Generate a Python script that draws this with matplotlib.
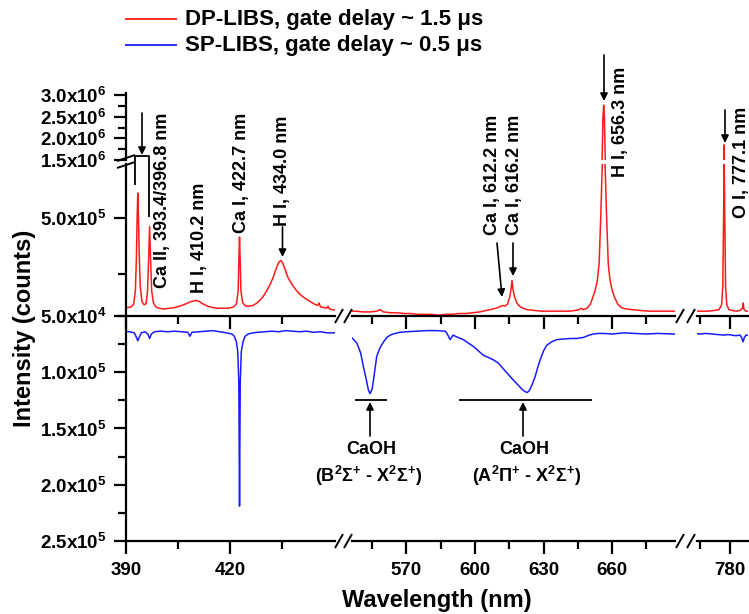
import matplotlib
matplotlib.use('Agg')
import matplotlib.pyplot as plt
from matplotlib.lines import Line2D
from matplotlib.patches import FancyArrowPatch
from matplotlib.ticker import FixedLocator, NullFormatter, FuncFormatter
import math

plt.rcParams['font.family'] = ['Liberation Sans', 'DejaVu Sans']
plt.rcParams['font.weight'] = 'bold'
plt.rcParams['font.size'] = 13.5
plt.rcParams['mathtext.default'] = 'regular'

# ---------------- data ----------------
# DP-LIBS (red), three wavelength segments
red_wl_1 = [389.5, 390.5, 391.5, 392.2, 392.7, 393.0, 393.2, 393.4, 393.6, 393.8, 394.1, 394.6, 395.2,
            395.8, 396.2, 396.5, 396.8, 397.1, 397.4, 397.9, 398.6, 399.5, 401, 402.5, 404, 405.5, 407,
            408.2, 409.2, 410.2, 411.2, 412.3, 413.5, 415, 416.5, 418, 419.5, 421, 421.8, 422.3, 422.5,
            422.7, 422.9, 423.1, 423.6, 424.5, 425.5, 426.5, 427.5, 428.5, 429.5, 430.5, 431.5, 432.4,
            433.2, 433.8, 434.2, 434.6, 435.1, 435.8, 436.6, 437.3, 438.2, 439.2, 440.3, 441.5, 442.8,
            444, 445.2, 445.6, 446.0, 447, 447.8, 448.2, 448.6, 449.5, 451]
red_I_1 = [6.1e4, 6.1e4, 6.2e4, 6.6e4, 9e4, 2.0e5, 5e5, 9.0e5, 5e5, 2.2e5, 1.0e5, 7.0e4, 6.5e4,
           6.7e4, 9e4, 1.8e5, 4.1e5, 1.8e5, 9e4, 6.8e4, 6.2e4, 6.0e4, 5.9e4, 6.0e4, 6.1e4, 6.3e4, 6.6e4,
           6.9e4, 7.1e4, 7.2e4, 7.0e4, 6.6e4, 6.3e4, 6.1e4, 6.0e4, 6.0e4, 6.0e4, 6.2e4, 6.6e4, 9e4, 1.8e5,
           3.2e5, 1.8e5, 9e4, 6.8e4, 6.3e4, 6.3e4, 6.4e4, 6.7e4, 7.2e4, 7.9e4, 9.0e4, 1.05e5, 1.24e5,
           1.5e5, 1.7e5, 1.8e5, 1.84e5, 1.75e5, 1.5e5, 1.25e5, 1.12e5, 1.0e5, 9.0e4, 8.2e4, 7.6e4, 7.1e4,
           6.7e4, 6.4e4, 6.8e4, 6.2e4, 6.1e4, 6.0e4, 6.3e4, 5.9e4, 5.8e4, 5.7e4]

red_wl_2 = [545, 548, 551, 554, 557, 558.5, 560, 563, 566, 569, 572, 575, 578, 581, 584, 587, 590, 593,
            596, 599, 602, 605, 608, 610, 611.3, 612.2, 613.0, 614.2, 615.2, 615.8, 616.2, 616.6, 617.3,
            618.3, 619.5, 621, 623, 626, 629, 632, 635, 638, 641, 644, 645.5, 646.4, 647.3, 649, 650.5,
            651.5, 652.5, 653.5, 654.3, 655.0, 655.6, 656.0, 656.3, 656.6, 657.0, 657.6, 658.3, 659.1,
            660.1, 661.1, 662.5, 664, 666, 669, 672, 676, 680, 684, 689]
red_I_2 = [5.6e4, 5.6e4, 5.5e4, 5.5e4, 5.6e4, 5.8e4, 5.5e4, 5.4e4, 5.4e4, 5.3e4, 5.3e4, 5.2e4, 5.2e4,
           5.2e4, 5.1e4, 5.2e4, 5.2e4, 5.3e4, 5.3e4, 5.4e4, 5.5e4, 5.7e4, 5.9e4, 6.1e4, 6.3e4, 6.4e4,
           6.3e4, 6.6e4, 7.8e4, 9.5e4, 1.15e5, 9.5e4, 7.8e4, 6.8e4, 6.3e4, 6.0e4, 5.8e4, 5.7e4, 5.6e4,
           5.6e4, 5.6e4, 5.6e4, 5.6e4, 5.7e4, 5.8e4, 6.0e4, 5.8e4, 6.0e4, 6.6e4, 7.7e4, 9.0e4, 1.15e5,
           1.7e5, 5.0e5, 1.5e6, 2.5e6, 2.77e6, 2.5e6, 1.5e6, 5.0e5, 1.7e5, 1.15e5, 9.0e4, 7.7e4, 6.6e4,
           6.1e4, 5.9e4, 5.8e4, 5.7e4, 5.6e4, 5.6e4, 5.6e4, 5.6e4]

red_wl_3 = [763, 766, 769, 772, 774.5, 775.8, 776.4, 776.8, 777.1, 777.4, 777.8, 778.4, 779.5, 781,
            783, 785, 786.2, 786.6, 787.0, 788, 790]
red_I_3 = [5.6e4, 5.6e4, 5.6e4, 5.7e4, 5.8e4, 6.5e4, 1.0e5, 5e5, 1.85e6, 5e5, 1.0e5, 6.5e4, 5.8e4,
           5.7e4, 5.6e4, 5.7e4, 6.0e4, 6.8e4, 5.8e4, 5.6e4, 5.6e4]

# SP-LIBS (blue), three wavelength segments
blue_wl_1 = [389.5, 391, 392.4, 393.0, 393.4, 393.8, 394.4, 395.5, 396.3, 396.8, 397.3, 398.2, 400, 402,
             404, 406, 407.8, 408.4, 409, 411, 413, 415, 417, 419, 420.5, 421.2, 421.8, 422.2, 422.5,
             422.7, 422.9, 423.2, 423.7, 424.3, 425.2, 426.5, 428, 430, 432, 434, 436, 438, 440, 442,
             444, 446, 448, 450, 451]
blue_I_1 = [6.35e4, 6.4e4, 6.5e4, 6.9e4, 7.2e4, 6.9e4, 6.5e4, 6.4e4, 6.6e4, 7.0e4, 6.6e4, 6.4e4, 6.35e4,
            6.4e4, 6.35e4, 6.4e4, 6.45e4, 6.8e4, 6.45e4, 6.4e4, 6.35e4, 6.3e4, 6.4e4, 6.5e4, 6.6e4,
            6.8e4, 7.3e4, 8.2e4, 1.1e5, 2.19e5, 1.1e5, 8.2e4, 7.3e4, 6.8e4, 6.6e4, 6.5e4, 6.45e4, 6.4e4,
            6.35e4, 6.4e4, 6.3e4, 6.35e4, 6.4e4, 6.35e4, 6.45e4, 6.4e4, 6.5e4, 6.5e4, 6.45e4]

blue_wl_2 = [544.6, 546.5, 548.3, 550, 551.2, 552.4, 553.4, 554.1, 555.0, 555.6, 557.0, 558.5, 560,
             561.5, 562.9, 565, 567.2, 570, 574.5, 579, 583.3, 587.0, 587.6, 588.4, 589.1, 589.8, 590.4,
             592.5, 594.9, 597, 599.3, 601.5, 603.7, 606, 608.1, 610.3, 612.4, 614.6, 616.8, 618.7,
             620.5, 621.7, 622.7, 623.5, 624.1, 625.2, 626.3, 627.4, 628.5, 630, 631.4, 633.5, 635.8,
             638.5, 641.7, 644.5, 647.5, 650, 651.9, 654, 656.3, 660, 665, 670, 675, 680, 686.4, 689]
blue_I_2 = [6.7e4, 7.0e4, 7.4e4, 8.3e4, 9.5e4, 1.06e5, 1.16e5, 1.19e5, 1.15e5, 1.07e5, 8.6e4, 7.8e4,
            7.3e4, 6.9e4, 6.7e4, 6.55e4, 6.45e4, 6.4e4, 6.35e4, 6.3e4, 6.3e4, 6.35e4, 6.5e4, 6.8e4,
            7.1e4, 6.9e4, 6.7e4, 6.9e4, 7.1e4, 7.4e4, 7.7e4, 8.1e4, 8.5e4, 8.7e4, 8.9e4, 9.2e4, 9.7e4,
            1.02e5, 1.07e5, 1.11e5, 1.15e5, 1.17e5, 1.18e5, 1.17e5, 1.15e5, 1.1e5, 1.04e5, 9.6e4, 8.9e4,
            8.1e4, 7.6e4, 7.3e4, 7.1e4, 7.05e4, 7.0e4, 7.0e4, 6.9e4, 6.7e4, 6.6e4, 6.55e4, 6.55e4,
            6.6e4, 6.5e4, 6.55e4, 6.6e4, 6.55e4, 6.6e4, 6.6e4]

blue_wl_3 = [762, 765, 768, 771, 774, 777, 779, 781, 783, 785, 785.8, 786.5, 787.2, 788, 790]
blue_I_3 = [6.55e4, 6.6e4, 6.55e4, 6.6e4, 6.65e4, 6.7e4, 6.65e4, 6.7e4, 6.75e4, 6.7e4, 6.9e4, 7.3e4,
            6.9e4, 6.7e4, 6.7e4]

seg_limits = [(390, 450.2), (546.2, 687.5), (763.5, 789)]
x_major = [[390, 420], [570, 600, 630, 660], [780]]
x_minor = [[405, 435], [555, 585, 615, 645, 675], [765]]
legend_labels = ['DP-LIBS, gate delay ~ 1.5 \u03bcs', 'SP-LIBS, gate delay ~ 0.5 \u03bcs']

red_segs = [(red_wl_1, red_I_1), (red_wl_2, red_I_2), (red_wl_3, red_I_3)]
blue_segs = [(blue_wl_1, blue_I_1), (blue_wl_2, blue_I_2), (blue_wl_3, blue_I_3)]

# ---------------- layout ----------------
W, H = 749, 614
fig = plt.figure(figsize=(W / 100, H / 100), dpi=100)


def rect(x0, y0, x1, y1):
    return [x0 / W, 1 - y1 / H, (x1 - x0) / W, (y1 - y0) / H]


def P(x, y):
    return (x / W, 1 - y / H)


SEG_X = [(126, 335), (352, 675), (697, 748)]
ROW_UP, ROW_LO, ROW_BOT = (93, 160), (164, 316), (316, 541)
SPW = 1.6
RED, BLUE = '#ff1a1a', '#1a1aff'


def sci(v, pos=None):
    e = int(math.floor(math.log10(v) + 1e-9))
    m = v / 10 ** e
    return f'{m:.1f}x10$^{{{e}}}$'


def style_common(ax, i):
    for s in ['top', 'right']:
        ax.spines[s].set_visible(False)
    for s in ax.spines.values():
        s.set_linewidth(SPW)
    if i != 0:
        ax.spines['left'].set_visible(False)
        ax.tick_params(axis='y', which='both', left=False, labelleft=False)
    ax.tick_params(axis='both', which='major', length=9, width=SPW, direction='out', pad=5)
    ax.tick_params(axis='both', which='minor', length=5.5, width=SPW, direction='out')
    ax.patch.set_alpha(0)


for i, ((x0, x1), lim) in enumerate(zip(SEG_X, seg_limits)):
    # upper (linear) part of the DP panel
    au = fig.add_axes(rect(x0, ROW_UP[0], x1, ROW_UP[1]))
    au.plot(*red_segs[i], color=RED, lw=1.1)
    au.set_xlim(*lim)
    au.set_ylim(1.5e6, 3.05e6)
    style_common(au, i)
    au.spines['bottom'].set_visible(False)
    au.tick_params(axis='x', which='both', bottom=False, labelbottom=False)
    au.yaxis.set_major_locator(FixedLocator([1.5e6, 2.0e6, 2.5e6, 3.0e6]))
    au.yaxis.set_minor_locator(FixedLocator([1.75e6, 2.25e6, 2.75e6]))
    au.yaxis.set_major_formatter(FuncFormatter(sci))

    # lower (log) part of the DP panel
    al = fig.add_axes(rect(x0, ROW_LO[0], x1, ROW_LO[1]))
    al.plot(*red_segs[i], color=RED, lw=1.1)
    al.set_yscale('log')
    al.set_xlim(*lim)
    al.set_ylim(5e4, 1.78e6)
    style_common(al, i)
    al.yaxis.set_major_locator(FixedLocator([5e4, 5e5]))
    al.yaxis.set_minor_locator(FixedLocator([1.35e5]))
    al.yaxis.set_major_formatter(FuncFormatter(sci))
    al.yaxis.set_minor_formatter(NullFormatter())
    al.xaxis.set_major_locator(FixedLocator(x_major[i]))
    al.xaxis.set_minor_locator(FixedLocator(x_minor[i]))
    al.tick_params(axis='x', which='both', labelbottom=False)

    # SP panel (inverted linear)
    ab = fig.add_axes(rect(x0, ROW_BOT[0], x1, ROW_BOT[1]))
    ab.plot(*blue_segs[i], color=BLUE, lw=1.1)
    ab.set_xlim(*lim)
    ab.set_ylim(2.5e5, 5e4)
    style_common(ab, i)
    ab.yaxis.set_major_locator(FixedLocator([1.0e5, 1.5e5, 2.0e5, 2.5e5]))
    ab.yaxis.set_minor_locator(FixedLocator([5e4, 7.5e4, 1.25e5, 1.75e5, 2.25e5]))
    ab.yaxis.set_major_formatter(FuncFormatter(sci))
    ab.xaxis.set_major_locator(FixedLocator(x_major[i]))
    ab.xaxis.set_minor_locator(FixedLocator(x_minor[i]))
    ab.tick_params(axis='x', which='major', pad=6)


def fline(xs, ys, lw=1.3, color='k'):
    fig.add_artist(Line2D([x / W for x in xs], [1 - y / H for y in ys], lw=lw, color=color,
                          transform=fig.transFigure, solid_capstyle='butt'))


# axis break marks
for y in (316, 541):
    for cx in (339, 348, 680, 691):
        fline([cx - 4, cx + 4], [y + 7, y - 7], lw=1.4)
fline([117, 135], [161, 155], lw=1.4)
fline([117, 135], [168, 162], lw=1.4)

# legend
fline([125, 177], [19, 19], lw=1.3, color=RED)
fline([125, 177], [45, 45], lw=1.3, color=BLUE)
fig.text(*P(185, 19), legend_labels[0], fontsize=16, fontweight='bold', va='center', ha='left')
fig.text(*P(185, 45), legend_labels[1], fontsize=16, fontweight='bold', va='center', ha='left')

# axis titles
fig.text(*P(24, 328), 'Intensity (counts)', fontsize=17, fontweight='bold', rotation=90,
         ha='center', va='center')
fig.text(*P(437, 600), 'Wavelength (nm)', fontsize=17, fontweight='bold', ha='center', va='center')

# peak labels
ann_fs = 13
peak_labels = [('Ca II, 393.4/396.8 nm', 163, 288), ('H I, 410.2 nm', 199.5, 293),
               ('Ca I, 422.7 nm', 241.5, 233), ('H I, 434.0 nm', 282.5, 226),
               ('Ca I, 612.2 nm', 492.5, 235), ('Ca I, 616.2 nm', 515, 235),
               ('H I, 656.3 nm', 620.5, 177), ('O I, 777.1 nm', 741.5, 218)]
for txt, x, y in peak_labels:
    fig.text(*P(x, y), txt, fontsize=ann_fs, fontweight='bold', rotation=90, ha='center', va='bottom')


def farrow(x0, y0, x1, y1):
    fig.add_artist(FancyArrowPatch(
        P(x0, y0), P(x1, y1), transform=fig.transFigure, arrowstyle='-|>', mutation_scale=11,
        lw=1.2, color='k', shrinkA=0, shrinkB=0))


farrow(142, 113, 142, 155)
farrow(282.5, 227, 282.5, 257)
farrow(497, 243, 502, 297)
farrow(513, 243, 513, 276)
farrow(604, 55, 604, 101)
farrow(725, 110, 725, 143)
farrow(370, 436, 370, 402)
farrow(523, 436, 523, 402)

# bracket for Ca II doublet
fline([135, 135, 149, 149], [185, 156, 156, 217], lw=1.3)
# CaOH band markers
fline([355, 387], [400, 400], lw=1.3)
fline([459, 592], [400, 400], lw=1.3)
fig.text(*P(371, 449), 'CaOH', fontsize=ann_fs, fontweight='bold', ha='center', va='center')
fig.text(*P(369, 476), r'(B$^{2}\Sigma^{+}$ - X$^{2}\Sigma^{+}$)', fontsize=ann_fs, fontweight='bold',
         ha='center', va='center')
fig.text(*P(524.5, 449), 'CaOH', fontsize=ann_fs, fontweight='bold', ha='center', va='center')
fig.text(*P(527, 476), r'(A$^{2}\Pi^{+}$ - X$^{2}\Sigma^{+}$)', fontsize=ann_fs, fontweight='bold',
         ha='center', va='center')

fig.savefig('out.png', dpi=100)
